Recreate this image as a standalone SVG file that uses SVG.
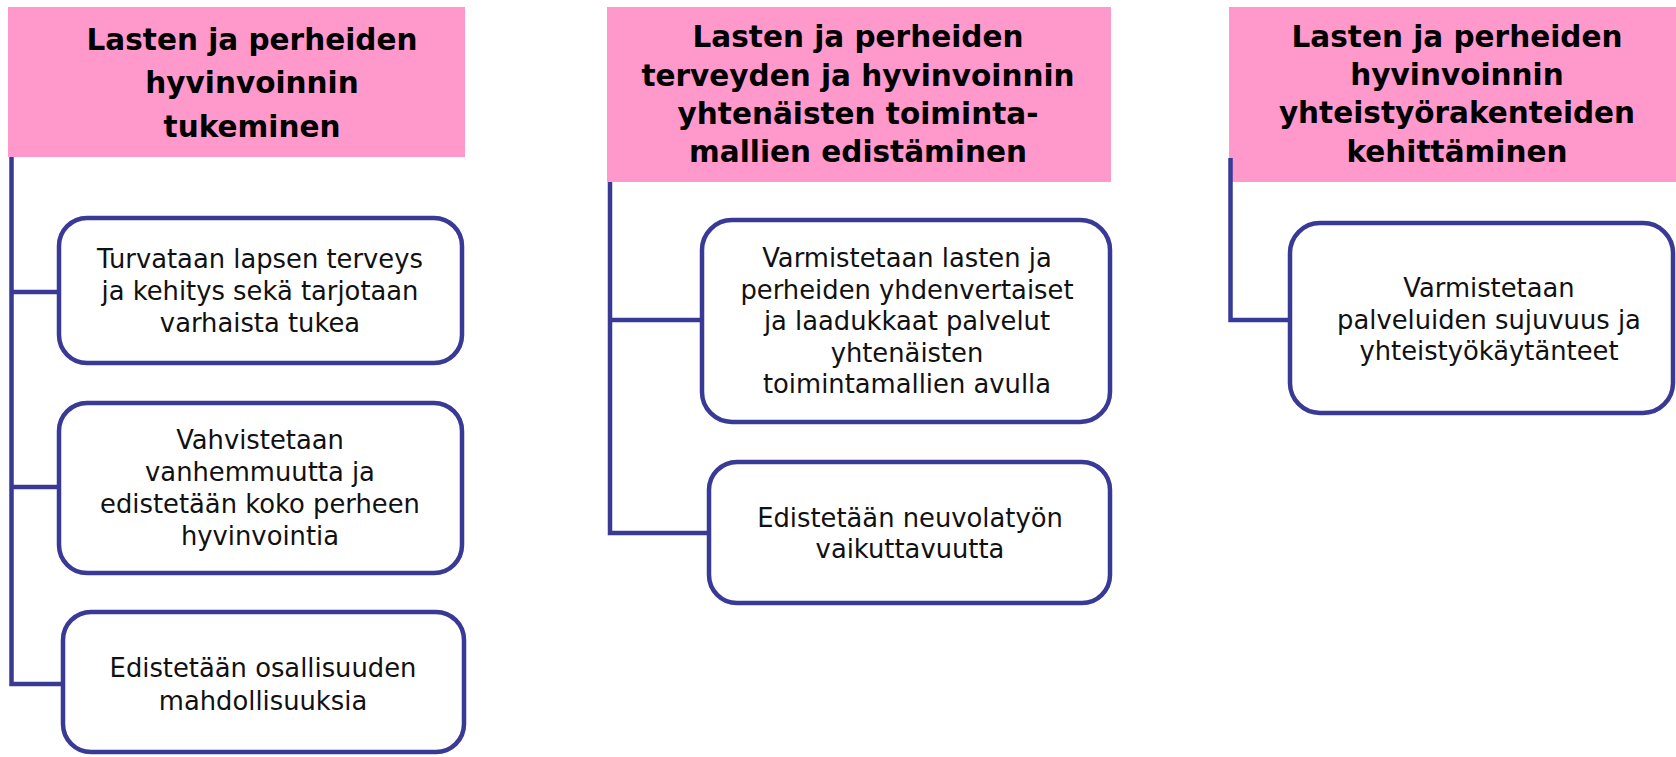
<svg xmlns="http://www.w3.org/2000/svg" width="1676" height="757" viewBox="0 0 1676 757">
  <style>
    .head { fill: #FF99CC; }
    .ht { font-family: "DejaVu Sans", "Liberation Sans", sans-serif; font-weight: bold; font-size: 29.5px; fill: #000; text-anchor: middle; }
    .box { fill: #fff; stroke: #393996; stroke-width: 4.5; }
    .bt { font-family: "DejaVu Sans", "Liberation Sans", sans-serif; font-size: 25.8px; fill: #111; text-anchor: middle; }
    .con { fill: none; stroke: #393996; stroke-width: 4.5; }
  </style>
  <rect width="1676" height="757" fill="#fff"/>

  <g id="head1">
    <rect class="head" x="8" y="7" width="457" height="150"/>
    <text class="ht" x="252" y="50">Lasten ja perheiden</text>
    <text class="ht" x="252" y="93">hyvinvoinnin</text>
    <text class="ht" x="252" y="137">tukeminen</text>
  </g>
  <g id="head2">
    <rect class="head" x="607" y="7" width="504" height="175"/>
    <text class="ht" x="858" y="47">Lasten ja perheiden</text>
    <text class="ht" x="858" y="85.5">terveyden ja hyvinvoinnin</text>
    <text class="ht" x="858" y="124">yhtenäisten toiminta-</text>
    <text class="ht" x="858" y="162">mallien edistäminen</text>
  </g>
  <g id="head3">
    <rect class="head" x="1229" y="7" width="460" height="175"/>
    <text class="ht" x="1457" y="47">Lasten ja perheiden</text>
    <text class="ht" x="1457" y="85">hyvinvoinnin</text>
    <text class="ht" x="1457" y="123">yhteistyörakenteiden</text>
    <text class="ht" x="1457" y="162">kehittäminen</text>
  </g>

  <g id="connectors">
    <path class="con" d="M11.5 157 V684 H63"/>
    <path class="con" d="M11.5 292 H59"/>
    <path class="con" d="M11.5 487 H59"/>
    <path class="con" d="M610 182 V533 H709"/>
    <path class="con" d="M610 320 H702"/>
    <path class="con" d="M1230.5 158 V320 H1290"/>
  </g>

  <g id="item1a">
    <rect class="box" x="59" y="218" width="403" height="145" rx="28"/>
    <text class="bt" x="260" y="268">Turvataan lapsen terveys</text>
    <text class="bt" x="260" y="300">ja kehitys sekä tarjotaan</text>
    <text class="bt" x="260" y="332">varhaista tukea</text>
  </g>
  <g id="item1b">
    <rect class="box" x="59" y="403" width="403" height="170" rx="28"/>
    <text class="bt" x="260" y="449">Vahvistetaan</text>
    <text class="bt" x="260" y="481">vanhemmuutta ja</text>
    <text class="bt" x="260" y="513">edistetään koko perheen</text>
    <text class="bt" x="260" y="545">hyvinvointia</text>
  </g>
  <g id="item1c">
    <rect class="box" x="63" y="612" width="401" height="140" rx="28"/>
    <text class="bt" x="263" y="677">Edistetään osallisuuden</text>
    <text class="bt" x="263" y="710">mahdollisuuksia</text>
  </g>
  <g id="item2a">
    <rect class="box" x="702" y="220" width="408" height="202" rx="30"/>
    <text class="bt" x="907" y="267">Varmistetaan lasten ja</text>
    <text class="bt" x="907" y="298.5">perheiden yhdenvertaiset</text>
    <text class="bt" x="907" y="330">ja laadukkaat palvelut</text>
    <text class="bt" x="907" y="361.5">yhtenäisten</text>
    <text class="bt" x="907" y="393">toimintamallien avulla</text>
  </g>
  <g id="item2b">
    <rect class="box" x="709" y="462" width="401" height="141" rx="28"/>
    <text class="bt" x="910" y="527">Edistetään neuvolatyön</text>
    <text class="bt" x="910" y="558">vaikuttavuutta</text>
  </g>
  <g id="item3a">
    <rect class="box" x="1290" y="223" width="383" height="190" rx="30"/>
    <text class="bt" x="1489" y="297">Varmistetaan</text>
    <text class="bt" x="1489" y="328.5">palveluiden sujuvuus ja</text>
    <text class="bt" x="1489" y="360">yhteistyökäytänteet</text>
  </g>
</svg>
